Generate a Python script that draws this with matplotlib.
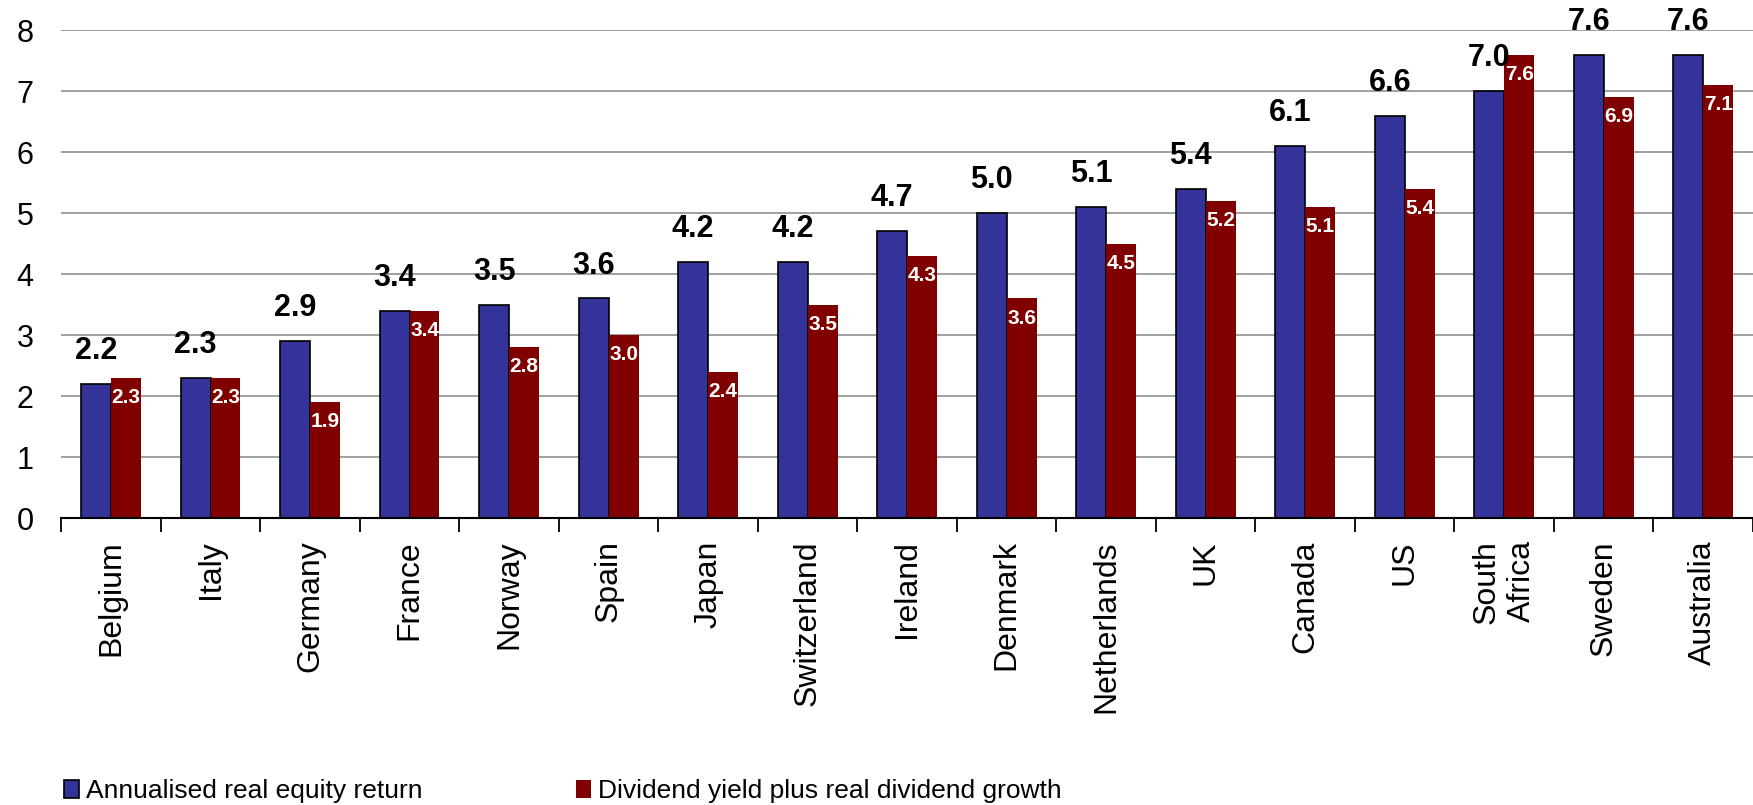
import matplotlib.pyplot as plt
import numpy as np

# data
countries = ['Belgium', 'Italy', 'Germany', 'France', 'Norway', 'Spain', 'Japan',
             'Switzerland', 'Ireland', 'Denmark', 'Netherlands', 'UK', 'Canada',
             'US', 'South\nAfrica', 'Sweden', 'Australia']
equity_return = [2.2, 2.3, 2.9, 3.4, 3.5, 3.6, 4.2, 4.2, 4.7, 5.0, 5.1, 5.4, 6.1,
                 6.6, 7.0, 7.6, 7.6]
dividend_growth = [2.3, 2.3, 1.9, 3.4, 2.8, 3.0, 2.4, 3.5, 4.3, 3.6, 4.5, 5.2, 5.1,
                   5.4, 7.6, 6.9, 7.1]
series_names = ['Annualised real equity return', 'Dividend yield plus real dividend growth']

plt.rcParams['font.family'] = ['Liberation Sans', 'DejaVu Sans']

fig = plt.figure(figsize=(17.53, 8.05), dpi=100)
ax = fig.add_axes([0.035, 0.3565, 0.965, 0.606])

x = np.arange(len(countries))
w = 0.3
blue = ax.bar(x - w / 2, equity_return, w, color='#333399', edgecolor='black',
              linewidth=1.2, label=series_names[0], zorder=3)
red = ax.bar(x + w / 2, dividend_growth, w, color='#800000', linewidth=0,
             label=series_names[1], zorder=3)

# value labels: blue ones above the bars, red ones inside near the top
for xi, v in zip(x, equity_return):
    ax.text(xi - w / 2, v + 0.54, f'{v:.1f}', ha='center', va='center',
            fontsize=22, fontweight='bold', color='black', zorder=5, clip_on=False)
for xi, v in zip(x, dividend_growth):
    ax.text(xi + w / 2, v - 0.32, f'{v:.1f}', ha='center', va='center',
            fontsize=15, fontweight='bold', color='white', zorder=5)

ax.set_xlim(-0.5, len(countries) - 0.5)
ax.set_ylim(0, 8)
ax.set_yticks(range(0, 9))
ax.tick_params(axis='y', length=0, labelsize=22, pad=20)

# ticks between categories, names at centres
ax.set_xticks(np.arange(len(countries) + 1) - 0.5)
ax.set_xticklabels([])
ax.set_xticks(x, minor=True)
ax.set_xticklabels(countries, minor=True, rotation=90, fontsize=23,
                   multialignment='right')
ax.tick_params(axis='x', which='major', length=10, width=1.3, direction='out')
ax.tick_params(axis='x', which='minor', length=0, pad=16)

ax.grid(axis='y', color='#999999', linewidth=1.3, zorder=0)
for side in ['top', 'right', 'left']:
    ax.spines[side].set_visible(False)
ax.spines['bottom'].set_linewidth(1.5)
ax.spines['bottom'].set_zorder(4)

fig.legend(handles=[blue, red], labels=series_names, loc='lower left',
           bbox_to_anchor=(0.023, -0.027), ncol=2, frameon=False, fontsize=19,
           handlelength=0.55, handleheight=0.65, handletextpad=0.3, columnspacing=5.8)

fig.savefig('out.png', dpi=100)
